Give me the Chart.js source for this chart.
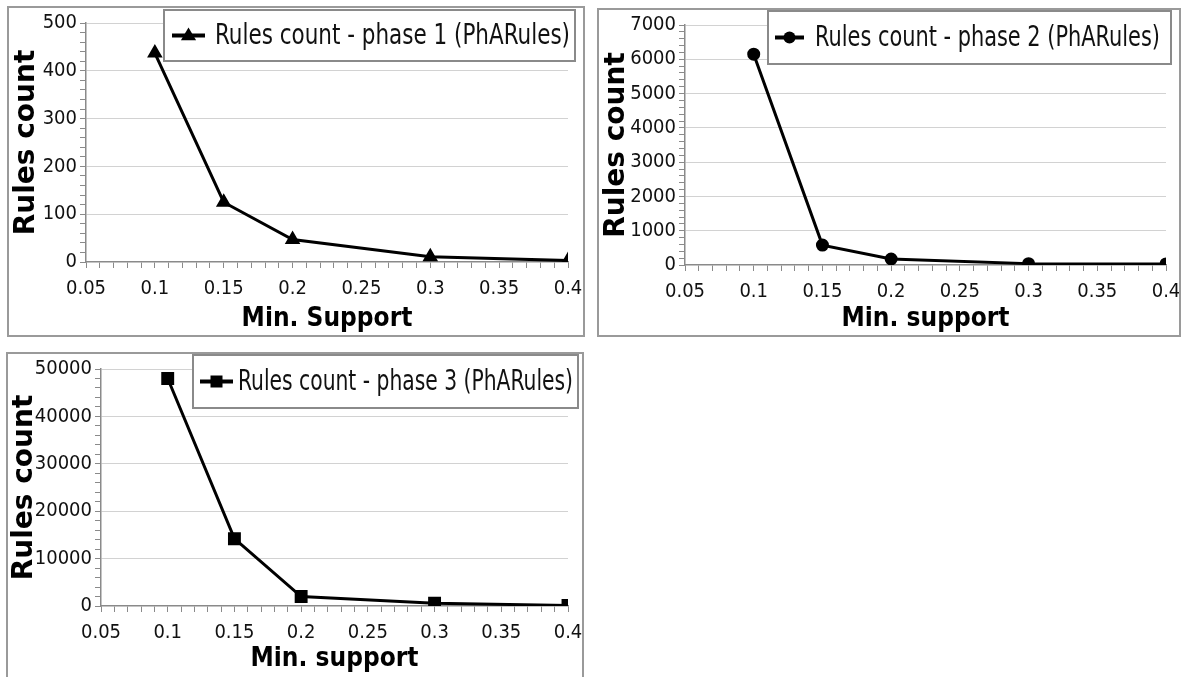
<!DOCTYPE html>
<html>
<head>
<meta charset="utf-8">
<script src="https://cdn.jsdelivr.net/npm/chart.js"></script>
<style>
body { margin:0; background:#fff; width:1185px; height:677px; overflow:hidden; position:relative; }
.panel { position:absolute; border:2px solid #9a9a9a; }
.panel canvas { display:block; }
</style>
</head>
<body>
<div class="panel" style="left:7px;top:6px;width:574px;height:327px"><canvas id="c1" width="574" height="327"></canvas></div>
<div class="panel" style="left:597px;top:8px;width:580px;height:325px"><canvas id="c2" width="580" height="325"></canvas></div>
<div class="panel" style="left:6px;top:352px;width:574px;height:323px"><canvas id="c3" width="574" height="323"></canvas></div>
<script>
// data
const minSupport = [0.1, 0.15, 0.2, 0.3, 0.4];
const phase1Rules = [437, 125, 47, 11, 3];
const phase2Rules = [6150, 580, 175, 40, 32];
const phase3Rules = [48000, 14200, 2000, 600, 100];
const seriesLabels = ['Rules count - phase 1 (PhARules)', 'Rules count - phase 2 (PhARules)', 'Rules count - phase 3 (PhARules)'];
const xTitles = ['Min. Support', 'Min. support', 'Min. support'];
const yTitle = 'Rules count';

const narrow = "'Liberation Sans Narrow', 'DejaVu Sans Condensed', sans-serif";
const tickFont = { family: narrow, size: 20 };
const xTitleFont = { family: "'DejaVu Sans Condensed', 'DejaVu Sans', sans-serif", size: 26, weight: 'bold' };
const yTitleFont = { family: "'DejaVu Sans', sans-serif", size: 28, weight: 'bold' };
const axisGray = '#8a8a8a';

function drawMarker(ctx, style, x, y, r) {
    ctx.beginPath();
    if (style === 'triangle') {
        ctx.moveTo(x, y - r);
        ctx.lineTo(x + r * 0.95, y + r * 0.6);
        ctx.lineTo(x - r * 0.95, y + r * 0.6);
        ctx.closePath();
    } else if (style === 'rect') {
        ctx.rect(x - r * 0.75, y - r * 0.75, r * 1.5, r * 1.5);
    } else {
        ctx.arc(x, y, r * 0.75, 0, Math.PI * 2);
    }
    ctx.fill();
}

// legend in a framed box, drawn over the top right of the plot
// the label is squeezed sideways to fit the box, like the original
const legendBox = {
    id: 'legendBox',
    afterDraw(chart, args, o) {
        const ctx = chart.ctx;
        const ds = chart.data.datasets[0];
        ctx.save();
        ctx.font = '28px ' + narrow;
        const tw = ctx.measureText(ds.label).width;
        const sx = Math.min(1, (o.textEnd - o.textStart) / tw);
        ctx.fillStyle = '#fff';
        ctx.fillRect(o.left, o.top, o.right - o.left, o.height);
        ctx.strokeStyle = '#8a8a8a';
        ctx.lineWidth = 2;
        ctx.strokeRect(o.left, o.top, o.right - o.left, o.height);
        const cy = o.top + o.height / 2;
        ctx.strokeStyle = '#000';
        ctx.lineWidth = 4;
        ctx.beginPath();
        ctx.moveTo(o.lineStart, cy);
        ctx.lineTo(o.lineEnd, cy);
        ctx.stroke();
        ctx.fillStyle = '#000';
        drawMarker(ctx, ds.pointStyle, (o.lineStart + o.lineEnd) / 2, cy, 8);
        ctx.fillStyle = '#111';
        ctx.textBaseline = 'middle';
        ctx.translate(o.textStart, cy + 1);
        ctx.scale(sx, 1);
        ctx.fillText(ds.label, 0, 0);
        ctx.restore();
    }
};

function buildChart(id, values, label, style, radius, xTitle, yMax, yMinor, yMajor, box, legend) {
    const ctx = document.getElementById(id).getContext('2d');
    return new Chart(ctx, {
        type: 'line',
        data: {
            datasets: [{
                label: label,
                data: minSupport.map((x, i) => ({ x: x, y: values[i] })),
                borderColor: '#000',
                backgroundColor: '#000',
                borderWidth: 3,
                pointStyle: style,
                pointRadius: radius,
                pointBackgroundColor: '#000',
                pointBorderColor: '#000',
                tension: 0
            }]
        },
        options: {
            responsive: false,
            animation: false,
            layout: { padding: { left: 0, top: box.top, right: box.right, bottom: 0 } },
            plugins: {
                legend: { display: false },
                tooltip: { enabled: false },
                legendBox: legend
            },
            scales: {
                x: {
                    type: 'linear',
                    min: 0.05,
                    max: 0.4,
                    afterFit: s => {
                        s.height = box.xHeight;
                        // edge labels may hang over, don't let them shrink the plot
                        s.paddingLeft = 0;
                        s.paddingRight = 0;
                    },
                    ticks: {
                        stepSize: 0.01,
                        autoSkip: false,
                        maxRotation: 0,
                        minRotation: 0,
                        padding: 9,
                        color: '#111',
                        font: tickFont,
                        callback: v => Math.round(v * 100) % 5 === 0 ? String(Math.round(v * 100) / 100) : ''
                    },
                    grid: { drawOnChartArea: false, drawTicks: true, tickLength: 6, color: axisGray },
                    border: { display: true, color: axisGray, width: 1.5 },
                    title: { display: true, text: xTitle, font: xTitleFont, color: '#000', padding: { top: 0, bottom: box.xTitlePad } }
                },
                y: {
                    min: 0,
                    max: yMax,
                    afterFit: s => { s.width = box.yWidth; },
                    ticks: {
                        stepSize: yMinor,
                        autoSkip: false,
                        padding: 3,
                        color: '#111',
                        font: tickFont,
                        callback: v => v % yMajor === 0 ? String(v) : ''
                    },
                    grid: {
                        drawTicks: true,
                        tickLength: 6,
                        tickColor: axisGray,
                        color: c => (c.tick && c.tick.value % yMajor === 0 && c.tick.value !== 0) ? '#d2d2d2' : 'rgba(0,0,0,0)'
                    },
                    border: { display: true, color: axisGray, width: 1.5 },
                    title: { display: true, text: yTitle, font: yTitleFont, color: '#000', padding: { top: box.yTitlePad, bottom: 0 } }
                }
            }
        },
        plugins: [legendBox]
    });
}

document.addEventListener('DOMContentLoaded', () => {
    buildChart('c1', phase1Rules, seriesLabels[0], 'triangle', 6, xTitles[0], 500, 20, 100,
        { top: 10, right: 15, yWidth: 77, xHeight: 73, xTitlePad: 0, yTitlePad: 1 },
        { left: 155, right: 566, top: 2, height: 51, lineStart: 163, lineEnd: 196, textStart: 206, textEnd: 561 });
    buildChart('c2', phase2Rules, seriesLabels[1], 'circle', 5, xTitles[1], 7000, 200, 1000,
        { top: 13, right: 13, yWidth: 86, xHeight: 70, xTitlePad: 0, yTitlePad: 1 },
        { left: 169, right: 572, top: 1, height: 53, lineStart: 176, lineEnd: 205, textStart: 216, textEnd: 561 });
    buildChart('c3', phase3Rules, seriesLabels[2], 'rect', 7, xTitles[2], 50000, 2000, 10000,
        { top: 10, right: 14, yWidth: 93, xHeight: 71, xTitlePad: 2, yTitlePad: 0 },
        { left: 185, right: 570, top: 1, height: 53, lineStart: 192, lineEnd: 225, textStart: 230, textEnd: 565 });
});
</script>
</body>
</html>
